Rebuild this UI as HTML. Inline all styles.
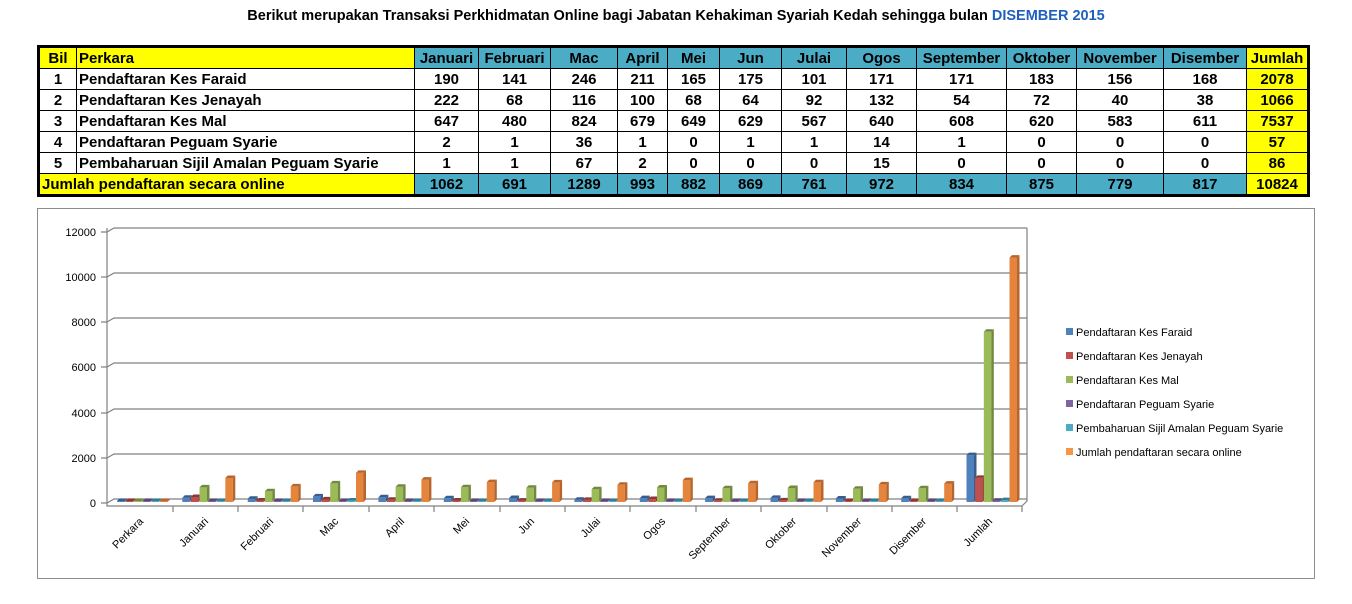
<!DOCTYPE html>
<html><head><meta charset="utf-8">
<style>
body{margin:0;background:#fff;width:1352px;height:604px;overflow:hidden;font-family:"Liberation Sans",Arial,sans-serif;position:relative}
.title{position:absolute;top:8px;left:0;width:1352px;text-align:center;font-weight:bold;font-size:14.5px;color:#000}
.title span{color:#1f5fbf}
table{position:absolute;left:37px;top:45px;border-collapse:collapse;border:3px solid #000;font-weight:bold;font-size:15px}
td{border:1px solid #000;height:20px;padding:0 2px;text-align:center;line-height:19px;white-space:nowrap}
.y{background:#ffff00}.t{background:#4bacc6}.l{text-align:left}
#chart{position:absolute;left:37px;top:208px;width:1276px;height:369px;border:1px solid #8c8c8c}
</style></head><body>
<div class="title">Berikut merupakan Transaksi Perkhidmatan Online bagi Jabatan Kehakiman Syariah Kedah sehingga bulan <span>DISEMBER 2015</span></div>
<table>
<colgroup><col style="width:38px"><col style="width:338px"><col style="width:64px"><col style="width:72px"><col style="width:67px"><col style="width:50px"><col style="width:52px"><col style="width:62px"><col style="width:65px"><col style="width:70px"><col style="width:90px"><col style="width:70px"><col style="width:87px"><col style="width:83px"><col style="width:62px"></colgroup>
<tr><td class="y">Bil</td><td class="y l">Perkara</td><td class="t">Januari</td><td class="t">Februari</td><td class="t">Mac</td><td class="t">April</td><td class="t">Mei</td><td class="t">Jun</td><td class="t">Julai</td><td class="t">Ogos</td><td class="t">September</td><td class="t">Oktober</td><td class="t">November</td><td class="t">Disember</td><td class="y">Jumlah</td></tr>
<tr><td>1</td><td class="l">Pendaftaran Kes Faraid</td><td>190</td><td>141</td><td>246</td><td>211</td><td>165</td><td>175</td><td>101</td><td>171</td><td>171</td><td>183</td><td>156</td><td>168</td><td class="y">2078</td></tr>
<tr><td>2</td><td class="l">Pendaftaran Kes Jenayah</td><td>222</td><td>68</td><td>116</td><td>100</td><td>68</td><td>64</td><td>92</td><td>132</td><td>54</td><td>72</td><td>40</td><td>38</td><td class="y">1066</td></tr>
<tr><td>3</td><td class="l">Pendaftaran Kes Mal</td><td>647</td><td>480</td><td>824</td><td>679</td><td>649</td><td>629</td><td>567</td><td>640</td><td>608</td><td>620</td><td>583</td><td>611</td><td class="y">7537</td></tr>
<tr><td>4</td><td class="l">Pendaftaran Peguam Syarie</td><td>2</td><td>1</td><td>36</td><td>1</td><td>0</td><td>1</td><td>1</td><td>14</td><td>1</td><td>0</td><td>0</td><td>0</td><td class="y">57</td></tr>
<tr><td>5</td><td class="l">Pembaharuan Sijil Amalan Peguam Syarie</td><td>1</td><td>1</td><td>67</td><td>2</td><td>0</td><td>0</td><td>0</td><td>15</td><td>0</td><td>0</td><td>0</td><td>0</td><td class="y">86</td></tr>
<tr><td class="y l" colspan="2">Jumlah pendaftaran secara online</td><td class="t">1062</td><td class="t">691</td><td class="t">1289</td><td class="t">993</td><td class="t">882</td><td class="t">869</td><td class="t">761</td><td class="t">972</td><td class="t">834</td><td class="t">875</td><td class="t">779</td><td class="t">817</td><td class="y">10824</td></tr>
</table>
<div id="chart"></div>
<svg width="1352" height="604" style="position:absolute;left:0;top:0" font-family="Liberation Sans, Arial, sans-serif">
<g stroke="#808080" stroke-width="1.2" fill="none">
<path d="M107,228 V506 H1022"/>
<path d="M101,232h6 M101,277h6 M101,322h6 M101,367h6 M101,413h6 M101,458h6 M101,503h6"/>
<path d="M107,232 l7,-4 H1027 M107,277 l7,-4 H1027 M107,322 l7,-4 H1027 M107,367 l7,-4 H1027 M107,413 l7,-4 H1027 M107,458 l7,-4 H1027 M107,503 l7,-4 H1027 M1022,506 l5,-5 V228"/>
<path d="M173,506v6 M238,506v6 M303,506v6 M369,506v6 M434,506v6 M500,506v6 M565,506v6 M630,506v6 M696,506v6 M761,506v6 M827,506v6 M892,506v6 M957,506v6 M1022,506v6"/>
</g>
<g font-size="11" fill="#000" text-anchor="end">
<text x="96" y="236">12000</text><text x="96" y="281">10000</text><text x="96" y="326">8000</text><text x="96" y="371">6000</text><text x="96" y="417">4000</text><text x="96" y="462">2000</text><text x="96" y="507">0</text>
</g>
<g id="bars"></g>
<g font-size="11" fill="#000" text-anchor="end">
<text transform="translate(144,522) rotate(-45)">Perkara</text>
<text transform="translate(209,522) rotate(-45)">Januari</text>
<text transform="translate(274,522) rotate(-45)">Februari</text>
<text transform="translate(339,522) rotate(-45)">Mac</text>
<text transform="translate(405,522) rotate(-45)">April</text>
<text transform="translate(470,522) rotate(-45)">Mei</text>
<text transform="translate(535,522) rotate(-45)">Jun</text>
<text transform="translate(601,522) rotate(-45)">Julai</text>
<text transform="translate(666,522) rotate(-45)">Ogos</text>
<text transform="translate(731,522) rotate(-45)">September</text>
<text transform="translate(797,522) rotate(-45)">Oktober</text>
<text transform="translate(862,522) rotate(-45)">November</text>
<text transform="translate(927,522) rotate(-45)">Disember</text>
<text transform="translate(993,522) rotate(-45)">Jumlah</text>
</g>
<g font-size="11" fill="#000">
<rect x="1066" y="328" width="7" height="7" fill="#4f81bd"/><text x="1076" y="336">Pendaftaran Kes Faraid</text>
<rect x="1066" y="352" width="7" height="7" fill="#c0504d"/><text x="1076" y="360">Pendaftaran Kes Jenayah</text>
<rect x="1066" y="376" width="7" height="7" fill="#9bbb59"/><text x="1076" y="384">Pendaftaran Kes Mal</text>
<rect x="1066" y="400" width="7" height="7" fill="#8064a2"/><text x="1076" y="408">Pendaftaran Peguam Syarie</text>
<rect x="1066" y="424" width="7" height="7" fill="#4bacc6"/><text x="1076" y="432">Pembaharuan Sijil Amalan Peguam Syarie</text>
<rect x="1066" y="448" width="7" height="7" fill="#f79646"/><text x="1076" y="456">Jumlah pendaftaran secara online</text>
</g>
</svg>
<script>
var d=[[0,0,0,0,0,0],[190,222,647,2,1,1062],[141,68,480,1,1,691],[246,116,824,36,67,1289],[211,100,679,1,2,993],[165,68,649,0,0,882],[175,64,629,1,0,869],[101,92,567,1,0,761],[171,132,640,14,15,972],[171,54,608,1,0,834],[183,72,620,0,0,875],[156,40,583,0,0,779],[168,38,611,0,0,817],[2078,1066,7537,57,86,10824]];
var c=[["#4f81bd","#385d8a"],["#c0504d","#8c3836"],["#9bbb59","#71893f"],["#8064a2","#5c4776"],["#4bacc6","#357d91"],["#e5843d","#b6652c"]];
var s="";
for(var i=0;i<14;i++){var x0=108+i*65.35;for(var k=0;k<6;k++){var h=Math.max(1,d[i][k]*0.02258);var x=x0+9+k*8.6;var y=502-h;
s+='<rect x="'+x.toFixed(1)+'" y="'+y.toFixed(1)+'" width="7.5" height="'+h.toFixed(1)+'" fill="'+c[k][0]+'"/>';
s+='<polygon points="'+(x+7.5).toFixed(1)+','+y.toFixed(1)+' '+(x+10).toFixed(1)+','+(y-2.5).toFixed(1)+' '+(x+10).toFixed(1)+','+(502-2.5)+' '+(x+7.5).toFixed(1)+',502" fill="'+c[k][1]+'"/>';
s+='<polygon points="'+x.toFixed(1)+','+y.toFixed(1)+' '+(x+2.5).toFixed(1)+','+(y-2.5).toFixed(1)+' '+(x+10).toFixed(1)+','+(y-2.5).toFixed(1)+' '+(x+7.5).toFixed(1)+','+y.toFixed(1)+'" fill="'+c[k][1]+'"/>';}}
document.getElementById("bars").innerHTML=s;
</script>
</body></html>
